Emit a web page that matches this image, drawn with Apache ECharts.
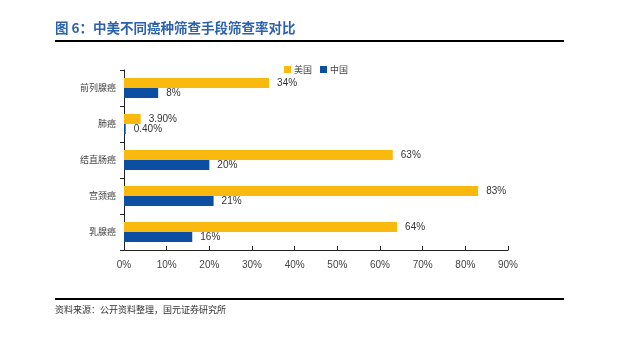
<!DOCTYPE html>
<html><head><meta charset="utf-8">
<script src="https://cdn.jsdelivr.net/npm/echarts@6/dist/echarts.min.js"></script>
<style>html,body{margin:0;padding:0;background:#fff}#c{width:633px;height:339px}</style>
</head><body><div id="c"></div>
<script>
const categories = ['前列腺癌', '肺癌', '结直肠癌', '宫颈癌', '乳腺癌'];
const usValues = [34, 3.9, 63, 83, 64];
const usLabels = ['34%', '3.90%', '63%', '83%', '64%'];
const cnValues = [8, 0.4, 20, 21, 16];
const cnLabels = ['8%', '0.40%', '20%', '21%', '16%'];
const seriesNames = ['美国', '中国'];
const titleText = '图 6：中美不同癌种筛查手段筛查率对比';
const sourceText = '资料来源：公开资料整理，国元证券研究所';

const chart = echarts.init(document.getElementById('c'));
const labelStyle = {fontSize: 10, color: '#333', fontFamily: 'Liberation Sans, Arial, sans-serif', distance: 8};
chart.setOption({
  animation: false,
  textStyle: {fontFamily: 'Noto Sans CJK SC'},
  grid: {left: 124, right: 125, top: 70, bottom: 89, containLabel: false},
  legend: {
    top: 60, left: 279, itemWidth: 7, itemHeight: 7, itemGap: 8,
    icon: 'rect',
    textStyle: {fontSize: 9, color: '#444', padding: [0, 0, 0, -2]},
    data: seriesNames
  },
  xAxis: {
    type: 'value', min: 0, max: 90, interval: 10,
    axisLine: {show: true, lineStyle: {color: '#222', width: 1}},
    axisTick: {show: true, inside: true, length: 4, lineStyle: {color: '#222'}},
    splitLine: {show: false},
    axisLabel: {formatter: '{value}%', fontSize: 10, color: '#444', margin: 10, fontFamily: 'Liberation Sans, Arial, sans-serif'}
  },
  yAxis: {
    type: 'category', data: categories, inverse: true,
    axisLine: {show: true, lineStyle: {color: '#222', width: 1}},
    axisTick: {show: true, length: 4, lineStyle: {color: '#222'}},
    axisLabel: {fontSize: 9, color: '#444', margin: 8}
  },
  series: [
    {name: seriesNames[0], type: 'bar', data: usValues, barWidth: 10, barGap: '0%',
     itemStyle: {color: '#F9B90F'},
     label: Object.assign({show: true, position: 'right', formatter: p => usLabels[p.dataIndex]}, labelStyle)},
    {name: seriesNames[1], type: 'bar', data: cnValues, barWidth: 10, barGap: '0%',
     itemStyle: {color: '#0C4EA2'},
     label: Object.assign({show: true, position: 'right', formatter: p => cnLabels[p.dataIndex]}, labelStyle)}
  ],
  graphic: [
    {type: 'text', left: 55, top: 21, style: {text: titleText, fill: '#2A62AE', fontSize: 13.5, fontWeight: 'bold', fontFamily: 'Noto Sans CJK SC'}},
    {type: 'rect', shape: {x: 55, y: 40, width: 509, height: 2}, style: {fill: '#000'}},
    {type: 'rect', shape: {x: 55, y: 298, width: 509, height: 2}, style: {fill: '#000'}},
    {type: 'text', left: 55, top: 305, style: {text: sourceText, fill: '#333', fontSize: 9, fontFamily: 'Noto Sans CJK SC'}}
  ]
});
</script></body></html>
